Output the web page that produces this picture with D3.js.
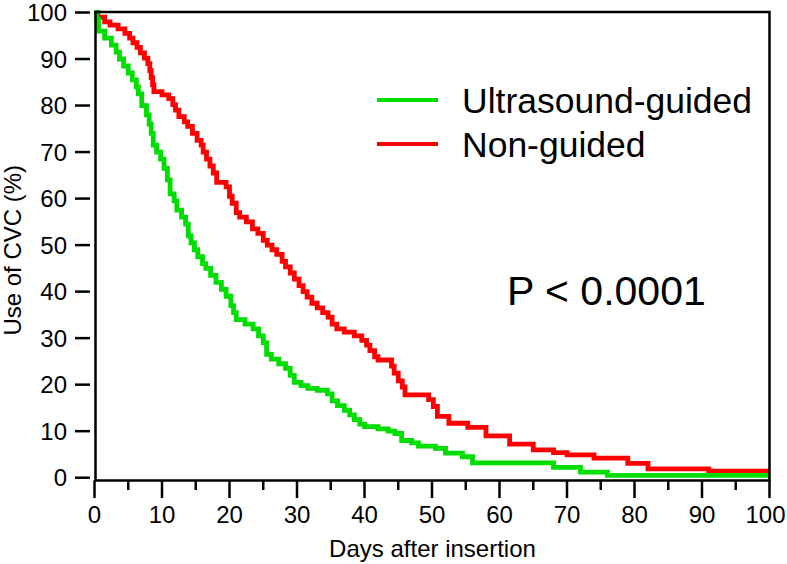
<!DOCTYPE html>
<html>
<head>
<meta charset="utf-8">
<script src="https://cdn.jsdelivr.net/npm/d3@7"></script>
<style>
  html, body { margin: 0; padding: 0; background: #fff; }
  svg { display: block; }
  text { font-family: "Liberation Sans", Arial, Helvetica, sans-serif; fill: #000; }
</style>
</head>
<body>
<svg id="chart" width="787" height="564"></svg>
<script>
// ---- Data ----
const seriesNames = ["Ultrasound-guided", "Non-guided"];
const seriesColors = ["#00dd00", "#ff0000"];

// Kaplan-Meier step points: [day, % still using CVC]
const guidedDays = [0, 0.3, 0.6, 1.5, 2.5, 3.2, 3.7, 4.3, 5.0, 5.6, 6.2, 6.5, 7.0, 7.7, 8.1, 8.4, 8.7, 9.2, 9.8, 10.3, 10.8, 11.2, 11.8, 12.2, 12.9, 13.5, 13.9, 14.3, 14.8, 15.3, 16.0, 16.5, 17.2, 18.0, 18.8, 19.5, 20.2, 20.6, 21.0, 22.3, 23.5, 24.3, 25.0, 25.5, 26.2, 27.3, 28.3, 29.0, 29.6, 30.6, 31.6, 33.0, 34.5, 35.2, 36.0, 37.0, 37.8, 38.5, 39.3, 40.0, 42.0, 43.5, 44.5, 45.5, 47.0, 48.0, 50.5, 52.0, 54.5, 56.0, 68.0, 72.0, 76.0, 100];
const guidedValues = [100, 98.5, 96, 94.5, 93, 91.5, 90, 88.5, 87, 85.5, 84, 82.5, 80, 78, 76, 74, 71.5, 70, 68.5, 66.5, 64, 61, 59.5, 57.5, 56, 54.5, 52, 50.5, 49, 47.5, 46, 45, 43.5, 42, 40.5, 39, 37, 35.5, 34, 33, 32, 30.5, 29, 26.5, 25.5, 24.5, 23.5, 22, 20.5, 19.8, 19.2, 18.8, 18, 16.5, 15.5, 14.5, 13.5, 12.5, 11.5, 11, 10.5, 10, 9.5, 8, 7.5, 6.8, 6.3, 5.3, 4.5, 3.2, 2.2, 1.2, 0.5, 0.5];

const nonGuidedDays = [0, 0.5, 1.5, 2.3, 3.5, 4.5, 5.2, 5.7, 6.3, 6.8, 7.4, 7.9, 8.2, 8.4, 8.6, 8.8, 10.0, 11.0, 11.6, 12.0, 12.5, 13.3, 13.8, 14.5, 15.2, 15.8, 16.1, 16.6, 17.1, 17.6, 18.1, 19.5, 20.0, 20.4, 21.0, 21.5, 22.5, 23.4, 24.2, 25.0, 25.6, 26.3, 27.0, 27.8, 28.3, 29.0, 29.6, 30.3, 30.9, 31.5, 32.2, 33.0, 33.8, 34.6, 35.2, 35.9, 37.0, 38.5, 39.6, 40.3, 40.8, 41.5, 42.0, 44.0, 44.4, 45.0, 45.6, 46.0, 49.5, 50.2, 50.8, 52.5, 55.3, 58.0, 61.5, 65.0, 68.0, 70.0, 74.0, 79.0, 82.0, 91.0, 100];
const nonGuidedValues = [100, 99, 98, 97.3, 96.5, 95.5, 94.5, 93.5, 92.5, 91.3, 90.2, 89, 87.5, 86, 84.5, 83, 82.3, 81.5, 80.2, 79, 77.6, 76.5, 75.5, 74, 72.5, 71.5, 70, 68.5, 67, 65.5, 63.5, 62.5, 60.5, 59, 57, 56, 55, 53.5, 52.5, 51, 50, 49, 48, 46.5, 45.3, 44, 42.7, 41.3, 40, 38.8, 37.5, 36.5, 35.5, 34.5, 33, 32, 31.3, 30.5, 29.5, 28.5, 27.3, 26, 25.3, 24, 22.5, 20.8, 19.5, 17.8, 16.8, 15.3, 13.2, 11.7, 10.8, 9, 7.2, 6, 5.4, 4.9, 4.2, 3.1, 1.9, 1.4, 1.4];

const xMajorTicks = [0, 10, 20, 30, 40, 50, 60, 70, 80, 90, 100];
const xMinorTicks = [5, 15, 25, 35, 45, 55, 65, 75, 85, 95];
const yTicks = [0, 10, 20, 30, 40, 50, 60, 70, 80, 90, 100];

const xTitle = "Days after insertion";
const yTitle = "Use of CVC (%)";
const pText = "P < 0.0001";

// ---- Drawing ----
const svg = d3.select("#chart");
const x = d3.scaleLinear().domain([0, 100]).range([94.5, 769.5]);
const y = d3.scaleLinear().domain([0, 100]).range([477.7, 12.5]);

const frameLeft = 95.5, frameRight = 769.5, frameTop = 12, frameBottom = 480.5;

const toPts = (ds, vs) => ds.map((d, i) => [d, vs[i]]);
const line = d3.line().x(d => x(d[0])).y(d => y(d[1])).curve(d3.curveStepAfter);

const series = [
  { name: seriesNames[1], color: seriesColors[1], pts: toPts(nonGuidedDays, nonGuidedValues) },
  { name: seriesNames[0], color: seriesColors[0], pts: toPts(guidedDays, guidedValues) }
];

svg.selectAll("path.km").data(series).enter().append("path")
  .attr("class", "km")
  .attr("d", s => line(s.pts))
  .attr("fill", "none")
  .attr("stroke", s => s.color)
  .attr("stroke-width", 4.8)
  .attr("stroke-linejoin", "miter")
  .attr("stroke-linecap", "butt");

// frame
const frame = svg.append("g").attr("stroke", "#000").attr("stroke-width", 2.5).attr("fill", "none");
frame.append("path").attr("d", `M${frameLeft},${frameTop}H${frameRight}V${frameBottom}H${frameLeft}Z`);

// y ticks (outside, with a small gap from the axis)
svg.append("g").selectAll("line").data(yTicks).enter().append("line")
  .attr("x1", 75).attr("x2", 90)
  .attr("y1", d => y(d)).attr("y2", d => y(d))
  .attr("stroke", "#000").attr("stroke-width", 2.5);
svg.append("g").selectAll("text").data(yTicks).enter().append("text")
  .attr("x", 67).attr("y", d => y(d))
  .attr("dy", "0.36em")
  .attr("text-anchor", "end")
  .attr("font-size", 24)
  .text(d => d);

// x ticks
svg.append("g").selectAll("line").data(xMajorTicks).enter().append("line")
  .attr("x1", d => x(d)).attr("x2", d => x(d))
  .attr("y1", frameBottom).attr("y2", 498)
  .attr("stroke", "#000").attr("stroke-width", 2.5);
svg.append("g").selectAll("line").data(xMinorTicks).enter().append("line")
  .attr("x1", d => x(d)).attr("x2", d => x(d))
  .attr("y1", frameBottom).attr("y2", 490)
  .attr("stroke", "#000").attr("stroke-width", 2.5);
svg.append("g").selectAll("text").data(xMajorTicks).enter().append("text")
  .attr("x", d => Math.min(x(d), 765.5)).attr("y", 522.5)
  .attr("text-anchor", "middle")
  .attr("font-size", 24)
  .text(d => d);

// axis titles
svg.append("text")
  .attr("x", (frameLeft + frameRight) / 2).attr("y", 557)
  .attr("text-anchor", "middle")
  .attr("font-size", 24)
  .text(xTitle);
svg.append("text")
  .attr("transform", `translate(21,${(frameTop + frameBottom) / 2 + 4}) rotate(-90)`)
  .attr("text-anchor", "middle")
  .attr("font-size", 24)
  .text(yTitle);

// legend
const legendY = [100, 144];
const leg = svg.append("g");
[0, 1].forEach(i => {
  leg.append("line")
    .attr("x1", 377).attr("x2", 438)
    .attr("y1", legendY[i]).attr("y2", legendY[i])
    .attr("stroke", seriesColors[i]).attr("stroke-width", 4);
  leg.append("text")
    .attr("x", 462).attr("y", legendY[i] + 12.5)
    .attr("font-size", 35.5)
    .text(seriesNames[i]);
});

// p-value
svg.append("text")
  .attr("x", 507).attr("y", 305)
  .attr("font-size", 41)
  .text(pText);
</script>
</body>
</html>
